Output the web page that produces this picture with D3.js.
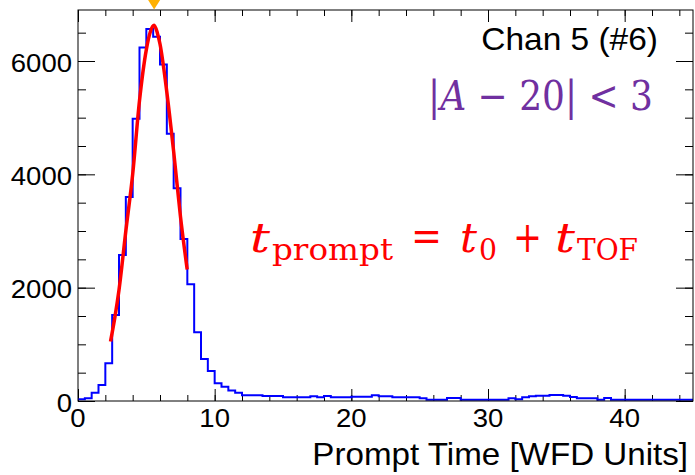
<!DOCTYPE html>
<html>
<head>
<meta charset="utf-8">
<script src="https://cdn.jsdelivr.net/npm/d3@7"></script>
<style>
body { margin: 0; background: #fff; }
svg { display: block; }
</style>
</head>
<body>
<div id="chart"></div>
<script>
// histogram: prompt time, bins of 0.5 WFD units starting at 0
var binStart = 0, binWidth = 0.5;
var counts = [
    30, 48, 147, 282, 665, 1518, 2577, 3600, 4980, 6240,
    6565, 6430, 5940, 4715, 3755, 2860, 2060, 1212, 741, 529,
    315, 253, 185, 147, 100, 100, 100, 88, 88, 88,
    65, 65, 65, 65, 82, 65, 88, 65, 65, 65,
    76, 76, 76, 100, 82, 82, 65, 65, 65, 65,
    47, 24, 24, 24, 53, 53, 24, 24, 24, 24,
    24, 24, 24, 47, 30, 65, 82, 94, 94, 106,
    106, 94, 70, 47, 47, 47, 24, 53, 24, 24,
    24, 24, 24, 24, 24, 24, 24, 24, 24, 24
];

// red fit curve
var fitX = [2.38, 2.7, 3.0, 3.5, 4.0, 4.5, 5.0, 5.3, 5.57, 5.8, 6.0, 6.5, 7.0, 7.5, 7.99];
var fitY = [1050, 1480, 1960, 3000, 4000, 5300, 6200, 6520, 6630, 6500, 6300, 5450, 4400, 3250, 2320];

var peakX = 5.57;   // orange marker on top

var xMajor = [0, 10, 20, 30, 40];
var xMinor = [0, 2, 4, 6, 8, 10, 12, 14, 16, 18, 20, 22, 24, 26, 28, 30, 32, 34, 36, 38, 40, 42, 44];
var yMajor = [0, 2000, 4000, 6000];
var yMinor = [0, 500, 1000, 1500, 2000, 2500, 3000, 3500, 4000, 4500, 5000, 5500, 6000, 6500];

var xTitle = "Prompt Time [WFD Units]";
var chanLabel = "Chan 5 (#6)";

var width = 695, height = 475;
var margin = {top: 10, right: 2, bottom: 74, left: 78};

var svg = d3.select("#chart")
    .append("svg")
    .attr("width", width)
    .attr("height", height);

var x = d3.scaleLinear()
    .domain([0, 45])
    .range([margin.left, width - margin.right]);

var y = d3.scaleLinear()
    .domain([0, 6900])
    .range([height - margin.bottom, margin.top]);

svg.append("clipPath")
    .attr("id", "plotclip")
    .append("rect")
    .attr("x", x(0)).attr("y", y(6900))
    .attr("width", x(45) - x(0))
    .attr("height", y(0) - y(6900));

// ticks, pointing inside the frame like ROOT does
function tickAxis(axis, vals, size, tx, ty) {
    svg.append("g")
        .attr("transform", "translate(" + tx + "," + ty + ")")
        .call(axis.tickValues(vals).tickSize(size).tickSizeOuter(0).tickFormat(""))
        .call(function(g) { g.select(".domain").remove(); })
        .selectAll("line")
        .attr("stroke", "#000")
        .attr("stroke-width", 1);
}
tickAxis(d3.axisBottom(x), xMinor, -6, 0, y(0));
tickAxis(d3.axisBottom(x), xMajor, -12, 0, y(0));
tickAxis(d3.axisTop(x), xMinor, -6, 0, y(6900));
tickAxis(d3.axisTop(x), xMajor, -12, 0, y(6900));
tickAxis(d3.axisLeft(y), yMinor, -8, x(0), 0);
tickAxis(d3.axisLeft(y), yMajor, -17, x(0), 0);
tickAxis(d3.axisRight(y), yMinor, -8, x(45), 0);
tickAxis(d3.axisRight(y), yMajor, -17, x(45), 0);

// histogram outline
var histPts = counts.map(function(c, i) { return [binStart + i * binWidth, c]; });
histPts.push([binStart + counts.length * binWidth, counts[counts.length - 1]]);

var histLine = d3.line()
    .x(function(d) { return x(d[0]); })
    .y(function(d) { return y(d[1]); })
    .curve(d3.curveStepAfter);

svg.append("path")
    .datum(histPts)
    .attr("clip-path", "url(#plotclip)")
    .attr("d", histLine)
    .attr("fill", "none")
    .attr("stroke", "#0000ff")
    .attr("stroke-width", 2);

// fit
var fitLine = d3.line()
    .x(function(d, i) { return x(fitX[i]); })
    .y(function(d) { return y(d); })
    .curve(d3.curveMonotoneX);

svg.append("path")
    .datum(fitY)
    .attr("d", fitLine)
    .attr("fill", "none")
    .attr("stroke", "#ff0000")
    .attr("stroke-width", 3.5)
    .attr("stroke-linejoin", "round");

// frame
svg.append("rect")
    .attr("x", x(0)).attr("y", y(6900))
    .attr("width", x(45) - x(0))
    .attr("height", y(0) - y(6900))
    .attr("fill", "none")
    .attr("stroke", "#000")
    .attr("stroke-width", 1);

// orange marker at the peak
svg.append("path")
    .attr("d", "M" + (x(peakX) - 6) + ",0 L" + (x(peakX) + 6) + ",0 L" + x(peakX) + "," + (y(6900) - 0.5) + " Z")
    .attr("fill", "#ffb000");

// text helpers
function sansText(str, tx, ty, size, anchor) {
    return svg.append("text")
        .attr("transform", "translate(" + tx + "," + ty + ") scale(1.08,1)")
        .attr("text-anchor", anchor)
        .style("font-family", "'Liberation Sans', Arial, Helvetica, sans-serif")
        .style("font-size", size + "px")
        .attr("fill", "#000")
        .text(str);
}

xMajor.forEach(function(v) { sansText(String(v), x(v), y(0) + 26, 25.5, "middle"); });
yMajor.forEach(function(v) { sansText(String(v), x(0) - 6, y(v) + 10.5, 25.5, "end"); });

sansText(xTitle, 688, 465, 30.7, "end");
sansText(chanLabel, 658, 50, 31, "end");

// math annotations
var serif = "'DejaVu Serif', 'Liberation Serif', serif";

var cut = svg.append("text")
    .attr("x", 428).attr("y", 110)
    .attr("textLength", 225)
    .attr("lengthAdjust", "spacingAndGlyphs")
    .style("font-family", serif)
    .style("font-size", "41px")
    .attr("fill", "#7030a0");
cut.append("tspan").text("|");
cut.append("tspan").style("font-style", "italic").text("A");
cut.append("tspan").text(" \u2212 20| < 3");

var formula = [
    {t: "t", x: 250, w: 20, size: 41, italic: true, base: 252},
    {t: "prompt", x: 272, w: 121, size: 29, italic: false, base: 260},
    {t: "=", x: 411, w: 31, size: 42, italic: false, base: 251},
    {t: "t", x: 460, w: 17, size: 41, italic: true, base: 252},
    {t: "0", x: 479, w: 18, size: 29, italic: false, base: 260},
    {t: "+", x: 513, w: 29, size: 42, italic: false, base: 252},
    {t: "t", x: 555, w: 20, size: 41, italic: true, base: 252},
    {t: "TOF", x: 577, w: 61, size: 29, italic: false, base: 260}
];

svg.append("g").selectAll("text")
    .data(formula)
    .enter().append("text")
    .attr("x", function(d) { return d.x; })
    .attr("y", function(d) { return d.base; })
    .attr("textLength", function(d) { return d.w; })
    .attr("lengthAdjust", "spacingAndGlyphs")
    .style("font-family", serif)
    .style("font-size", function(d) { return d.size + "px"; })
    .style("font-style", function(d) { return d.italic ? "italic" : "normal"; })
    .attr("fill", "#ff0000")
    .text(function(d) { return d.t; });
</script>
</body>
</html>
